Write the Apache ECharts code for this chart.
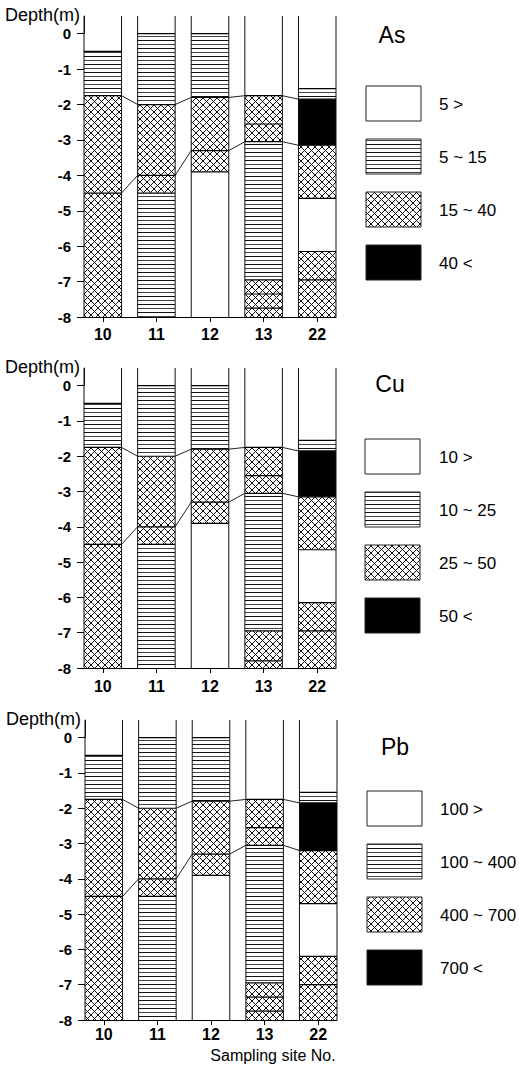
<!DOCTYPE html>
<html><head><meta charset="utf-8">
<script src="https://cdn.jsdelivr.net/npm/echarts@6/dist/echarts.min.js"></script>
<style>html,body{margin:0;padding:0;background:#fff}#c{width:519px;height:1077px}</style>
</head><body><div id="c"></div>
<script>
// ---------- data ----------
const sites = ['10', '11', '12', '13', '22'];
const depthTicks = [0, -1, -2, -3, -4, -5, -6, -7, -8];
const elements = ['As', 'Cu', 'Pb'];
const asLegend = ['5 >', '5 ~ 15', '15 ~ 40', '40 <'];
const cuLegend = ['10 >', '10 ~ 25', '25 ~ 50', '50 <'];
const pbLegend = ['100 >', '100 ~ 400', '400 ~ 700', '700 <'];

// layer boundaries (m) per site, and concentration class of each interval
// class 0 = lowest, 1 = second, 2 = third, 3 = highest
const asBounds = [[0, -0.5, -1.75, -4.5, -8], [0, -2.0, -4.0, -4.5, -8], [0, -1.8, -3.3, -3.9, -8], [0, -1.75, -2.55, -3.05, -6.95, -7.35, -7.75, -8], [0, -1.55, -1.85, -3.15, -4.65, -6.15, -6.95, -8]];
const asClasses = [[0, 1, 2, 2], [1, 2, 2, 1], [1, 2, 2, 0], [0, 2, 2, 1, 2, 2, 2], [0, 1, 3, 2, 0, 2, 2]];
const cuBounds = [[0, -0.5, -1.75, -4.5, -8], [0, -2.0, -4.0, -4.5, -8], [0, -1.8, -3.3, -3.9, -8], [0, -1.75, -2.55, -3.05, -6.95, -7.8, -8], [0, -1.55, -1.85, -3.15, -4.65, -6.15, -6.95, -8]];
const cuClasses = [[0, 1, 2, 2], [1, 2, 2, 1], [1, 2, 2, 0], [0, 2, 2, 1, 2, 2], [0, 1, 3, 2, 0, 2, 2]];
const pbBounds = [[0, -0.5, -1.75, -4.5, -8], [0, -2.0, -4.0, -4.5, -8], [0, -1.8, -3.3, -3.9, -8], [0, -1.75, -2.55, -3.05, -6.95, -7.35, -7.75, -8], [0, -1.55, -1.85, -3.2, -4.7, -6.2, -7.0, -8]];
const pbClasses = [[0, 1, 2, 2], [1, 2, 2, 1], [1, 2, 2, 0], [0, 2, 2, 1, 2, 2, 2], [0, 1, 3, 2, 0, 2, 2]];
// correlated layer surfaces linking the sites
const asLinks = [[-1.75, -2.0, -1.8, -1.75, -1.85], [-4.5, -4.0, -3.3, -3.05, -3.15]];
const cuLinks = [[-1.75, -2.0, -1.8, -1.75, -1.85], [-4.5, -4.0, -3.3, -3.05, -3.15]];
const pbLinks = [[-1.75, -2.0, -1.8, -1.75, -1.85], [-4.5, -4.0, -3.3, -3.05, -3.2]];

// ---------- styling / layout ----------
const HALF = 0.35;           // half column width in site-spacing units
const Y_MIN = -8, Y_MAX = 0.5;
const FONT = 'Liberation Sans, Arial, Helvetica, sans-serif';
const gridTop = [16, 368, 720];
const gridHeight = [301, 300, 300];
const gridLeft = [84, 84, 85];
const xLabelMargin = [9, 10, 6];
const legendX = [366, 365, 367];
const legendY0 = [86, 439, 791];
const labelX = [439, 439, 440];
const titlePos = [[392, 35], [390, 384], [395, 747]];

function makePattern(kind) {
  const c = document.createElement('canvas');
  const w = kind === 'lines' ? 8 : 7;
  const h = kind === 'lines' ? 8 : 7;
  c.width = w; c.height = h;
  const g = c.getContext('2d');
  g.fillStyle = '#fff'; g.fillRect(0, 0, w, h);
  if (kind === 'lines') {
    g.fillStyle = '#111'; g.fillRect(0, 0, w, 1);
    g.fillStyle = '#444'; g.fillRect(0, 4, w, 1);
  } else {
    g.fillStyle = '#111';
    for (let i = 0; i < w; i++) { g.fillRect(i, i, 1, 1); g.fillRect(w - 1 - i, i, 1, 1); }
  }
  return { image: c.toDataURL(), repeat: 'repeat', imageWidth: w, imageHeight: h };
}
const linesPat = makePattern('lines');
const crossPat = makePattern('cross');
const fills = ['#fff', linesPat, crossPat, '#000'];

const panels = [
  { name: elements[0], bounds: asBounds, classes: asClasses, links: asLinks, legend: asLegend },
  { name: elements[1], bounds: cuBounds, classes: cuClasses, links: cuLinks, legend: cuLegend },
  { name: elements[2], bounds: pbBounds, classes: pbClasses, links: pbLinks, legend: pbLegend }
];

function segRender(params, api) {
  const s = api.value(0), top = api.value(1), bot = api.value(2), cls = api.value(3), k = api.value(4);
  const p1 = api.coord([s - HALF, top]);
  const p2 = api.coord([s + HALF, bot]);
  const ch = [{ type: 'rect', shape: { x: p1[0], y: p1[1], width: p2[0] - p1[0], height: p2[1] - p1[1] }, style: { fill: fills[cls], stroke: null } }];
  if (!(k === 0 && cls === 0)) {
    ch.push({ type: 'line', shape: { x1: p1[0], y1: p1[1], x2: p2[0], y2: p1[1] }, style: { stroke: '#000', lineWidth: 1.2 } });
  }
  return { type: 'group', children: ch };
}
function colRender(params, api) {
  const s = api.value(0);
  const a = api.coord([s - HALF, Y_MAX]), b = api.coord([s - HALF, Y_MIN]);
  const c = api.coord([s + HALF, Y_MAX]), d = api.coord([s + HALF, Y_MIN]);
  return { type: 'group', children: [
    { type: 'line', shape: { x1: a[0], y1: a[1], x2: b[0], y2: b[1] }, style: { stroke: '#111', lineWidth: 1 } },
    { type: 'line', shape: { x1: c[0], y1: c[1], x2: d[0], y2: d[1] }, style: { stroke: '#111', lineWidth: 1 } }
  ] };
}
function linkRender(params, api) {
  const i = api.value(0);
  const a = api.coord([i + HALF, api.value(1)]);
  const b = api.coord([i + 1 - HALF, api.value(2)]);
  return { type: 'line', shape: { x1: a[0], y1: a[1], x2: b[0], y2: b[1] }, style: { stroke: '#222', lineWidth: 1 } };
}

const grid = [], xAxis = [], yAxis = [], series = [], graphic = [];
panels.forEach((P, p) => {
  grid.push({ left: gridLeft[p], width: 252, top: gridTop[p], height: gridHeight[p] });
  xAxis.push({
    type: 'value', gridIndex: p, min: -HALF, max: sites.length - 1 + HALF,
    axisLine: { show: true, onZero: false, lineStyle: { color: '#000', width: 1 } },
    axisTick: { show: true, customValues: sites.map((s, i) => i), length: 5, lineStyle: { color: '#000' } },
    axisLabel: { customValues: sites.map((s, i) => i), formatter: v => sites[Math.round(v)], fontSize: 16, fontWeight: 'bold', color: '#000', fontFamily: FONT, margin: xLabelMargin[p] },
    splitLine: { show: false }
  });
  yAxis.push({
    type: 'value', gridIndex: p, min: Y_MIN, max: Y_MAX,
    axisLine: { show: true, onZero: false, lineStyle: { color: '#111', width: 1 } },
    axisTick: { show: true, customValues: depthTicks, length: 7, lineStyle: { color: '#000', width: 1 } },
    axisLabel: { customValues: depthTicks, fontSize: 15, fontWeight: 'bold', color: '#000', fontFamily: FONT, margin: 13 },
    splitLine: { show: false },
    name: 'Depth(m)', nameLocation: 'end', nameGap: 1,
    nameTextStyle: { align: 'right', verticalAlign: 'middle', fontSize: 18, color: '#000', fontFamily: FONT, padding: [0, 4, 0, 0] }
  });
  const seg = [];
  P.bounds.forEach((b, s) => {
    for (let k = 0; k < b.length - 1; k++) seg.push([s, b[k], b[k + 1], P.classes[s][k], k]);
  });
  series.push({ type: 'custom', xAxisIndex: p, yAxisIndex: p, data: seg, renderItem: segRender, silent: true, clip: false });
  series.push({ type: 'custom', xAxisIndex: p, yAxisIndex: p, data: sites.map((s, i) => [i, Y_MIN]), renderItem: colRender, silent: true, clip: false });
  const lk = [];
  P.links.forEach(L => { for (let i = 0; i < L.length - 1; i++) lk.push([i, L[i], L[i + 1]]); });
  series.push({ type: 'custom', xAxisIndex: p, yAxisIndex: p, data: lk, renderItem: linkRender, silent: true, clip: false });

  // legend
  graphic.push({ type: 'text', x: titlePos[p][0], y: titlePos[p][1], style: { text: P.name, fontSize: 23, fontFamily: FONT, fill: '#000', align: 'center', verticalAlign: 'middle', textAlign: 'center', textVerticalAlign: 'middle' } });
  P.legend.forEach((t, k) => {
    const y = legendY0[p] + k * 53;
    graphic.push({ type: 'rect', shape: { x: legendX[p], y: y, width: 55, height: 35 }, style: { fill: fills[k], stroke: '#222', lineWidth: 1 } });
    graphic.push({ type: 'text', x: labelX[p], y: y + 18, style: { text: t, fontSize: 17, fontFamily: FONT, fill: '#000', align: 'left', verticalAlign: 'middle', textAlign: 'left', textVerticalAlign: 'middle' } });
  });
});
graphic.push({ type: 'text', x: 273, y: 1055, style: { text: 'Sampling site No.', fontSize: 16, fontFamily: FONT, fill: '#000', align: 'center', verticalAlign: 'middle', textAlign: 'center', textVerticalAlign: 'middle' } });

const chart = echarts.init(document.getElementById('c'), null, { renderer: 'svg' });
chart.setOption({ animation: false, backgroundColor: '#fff', grid, xAxis, yAxis, series, graphic });
</script>
</body></html>
